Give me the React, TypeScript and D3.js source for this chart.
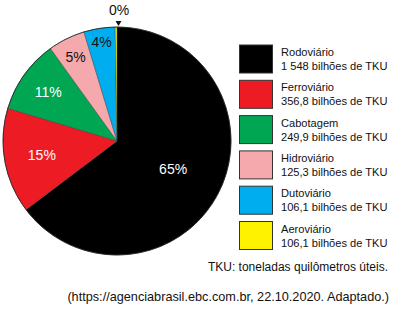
import React from "react";
import * as d3 from "d3";

const categories = ["Rodoviário", "Ferroviário", "Cabotagem", "Hidroviário", "Dutoviário", "Aeroviário"];
const legendValues = ["1 548", "356,8", "249,9", "125,3", "106,1", "106,1"];
const sliceValues = [1548, 356.8, 249.9, 125.3, 106.1, 6];
const percentLabels = ["65%", "15%", "11%", "5%", "4%", "0%"];
const colors = ["#000000", "#ed1c24", "#00a651", "#f5a9ad", "#00aeef", "#fff200"];
const labelColors = ["#fff", "#fff", "#fff", "#111", "#111", "#111"];

const W = 400, H = 311;
const cx = 117, cy = 141, R = 114;
const font = "'Liberation Sans', Arial, sans-serif";

export default function App() {
  const pie = d3.pie<number>().sort(null).value((d) => d);
  const arcs = pie(sliceValues);
  const arc = d3.arc<d3.PieArcDatum<number>>().innerRadius(0).outerRadius(R);
  const labelRadii = [0.55, 0.67, 0.74, 0.82, 0.88, 0];
  const legendY = d3.range(categories.length).map((i) => 45 + i * 35.3);

  return (
    <svg width={W} height={H} style={{ position: "absolute", left: 0, top: 0, background: "#fff" }} fontFamily={font}>
      <g transform={`translate(${cx},${cy})`}>
        {arcs.map((a, i) => (
          <path key={i} d={arc(a) || ""} fill={colors[i]} stroke="#333" strokeWidth={0.4} />
        ))}
        <circle r={R} fill="none" stroke="#222" strokeWidth={0.8} />
        {arcs.slice(0, 5).map((a, i) => {
          const [x, y] = d3.arc<d3.PieArcDatum<number>>().innerRadius(R * labelRadii[i]).outerRadius(R * labelRadii[i]).centroid(a);
          return (
            <text key={i} x={x} y={y} textAnchor="middle" dominantBaseline="central" fontSize={14} fill={labelColors[i]}>
              {percentLabels[i]}
            </text>
          );
        })}
        <text x={2} y={-126} textAnchor="middle" fontSize={14} fill="#111">{percentLabels[5]}</text>
        <path d="M -1.5,-120 L 4.5,-120 L 1.5,-115 Z" fill="#111" />
      </g>
      {categories.map((c, i) => (
        <g key={c}>
          <rect x={239.5} y={legendY[i]} width={33} height={28} fill={colors[i]} stroke="#333" strokeWidth={1} />
          <text x={281} y={legendY[i] + 11} fontSize={11.1} fill="#111">{c}</text>
          <text x={281} y={legendY[i] + 25} fontSize={11.1} fill="#111">{`${legendValues[i]} bilhões de TKU`}</text>
        </g>
      ))}
      <text x={388} y={271} textAnchor="end" fontSize={12} fill="#111">TKU: toneladas quilômetros úteis.</text>
      <text x={389} y={301} textAnchor="end" fontSize={12.7} fill="#111">(https://agenciabrasil.ebc.com.br, 22.10.2020. Adaptado.)</text>
    </svg>
  );
}
